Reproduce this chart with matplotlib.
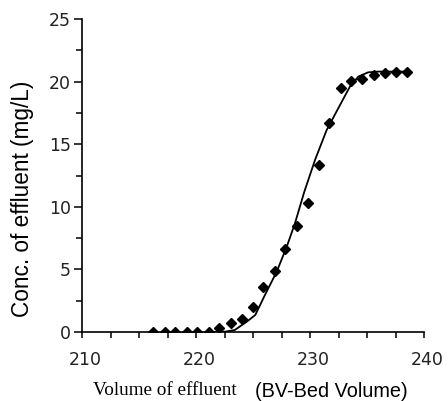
import matplotlib
matplotlib.use("Agg")
import matplotlib.pyplot as plt
from matplotlib.ticker import MultipleLocator
from matplotlib.transforms import ScaledTranslation

# Measured breakthrough data (points)
bv_points = [216.25, 217.3, 218.2, 219.2, 220.05, 221.1, 222.0, 223.1, 224.0, 225.0,
             225.9, 226.9, 227.8, 228.9, 229.8, 230.8, 231.7, 232.7, 233.6, 234.6,
             235.6, 236.6, 237.5, 238.5]
conc_points = [0.0, 0.0, 0.0, 0.0, 0.0, 0.0, 0.3, 0.7, 1.0, 2.0,
               3.6, 4.9, 6.6, 8.5, 10.3, 13.3, 16.7, 19.5, 20.05, 20.2,
               20.5, 20.65, 20.8, 20.8]

# Model curve
bv_curve = [221.0, 222.5, 223.4, 224.45, 225.2, 226.05, 227.08, 227.96, 228.68, 229.5,
            230.44, 231.46, 232.48, 233.5, 234.24, 235.1, 236.0, 238.5]
conc_curve = [0.0, 0.02, 0.16, 0.82, 1.36, 2.96, 4.82, 6.81, 8.68, 11.2,
              13.74, 16.13, 17.87, 19.6, 20.4, 20.74, 20.8, 20.8]

x_ticks = [210, 220, 230, 240]
y_ticks = [0, 5, 10, 15, 20, 25]

fig = plt.figure(figsize=(4.48, 4.01), dpi=100)
ax = fig.add_axes([82/448, 1-332/401, (424-82)/448, (332-19)/401])

ax.plot(bv_curve, conc_curve, color='black', lw=1.3, zorder=2, solid_joinstyle='round')
ax.plot(bv_points, conc_points, linestyle='none', marker='D', ms=4.6, color='black', zorder=3)

ax.set_xlim(210, 240)
ax.set_ylim(0, 25)
ax.set_xticks(x_ticks)
ax.set_yticks(y_ticks)
ax.xaxis.set_minor_locator(MultipleLocator(2.5))
ax.yaxis.set_minor_locator(MultipleLocator(2.5))
for s in ['top', 'right']:
    ax.spines[s].set_visible(False)
for s in ['left', 'bottom']:
    ax.spines[s].set_linewidth(1.2)
ax.tick_params(axis='x', which='both', direction='out', length=4, width=1.1, labelsize=12.5, pad=10)
ax.tick_params(axis='y', which='major', direction='out', length=6, width=1.1, labelsize=12.5, pad=2)
ax.tick_params(axis='y', which='minor', direction='out', length=4, width=1.1)
for lab in ax.get_xticklabels() + ax.get_yticklabels():
    lab.set_fontfamily('DejaVu Sans')
    lab.set_color('#222222')
shift = ScaledTranslation(3/100, 0, fig.dpi_scale_trans)
for lab in ax.get_xticklabels():
    lab.set_transform(lab.get_transform() + shift)

fig.text(22/448, 1-198.5/401, 'Conc. of effluent (mg/L)', fontfamily='Liberation Sans',
         fontsize=16.3, rotation=90, ha='center', va='center')

fig.text(93/448, 1-395/401, 'Volume of effluent', fontfamily='Liberation Serif', fontsize=13.8,
         ha='left', va='baseline')
fig.text(255/448, 1-397/401, '(BV-Bed Volume)', fontfamily='Liberation Sans', fontsize=14.3,
         ha='left', va='baseline')

fig.savefig('out.png', dpi=100)
